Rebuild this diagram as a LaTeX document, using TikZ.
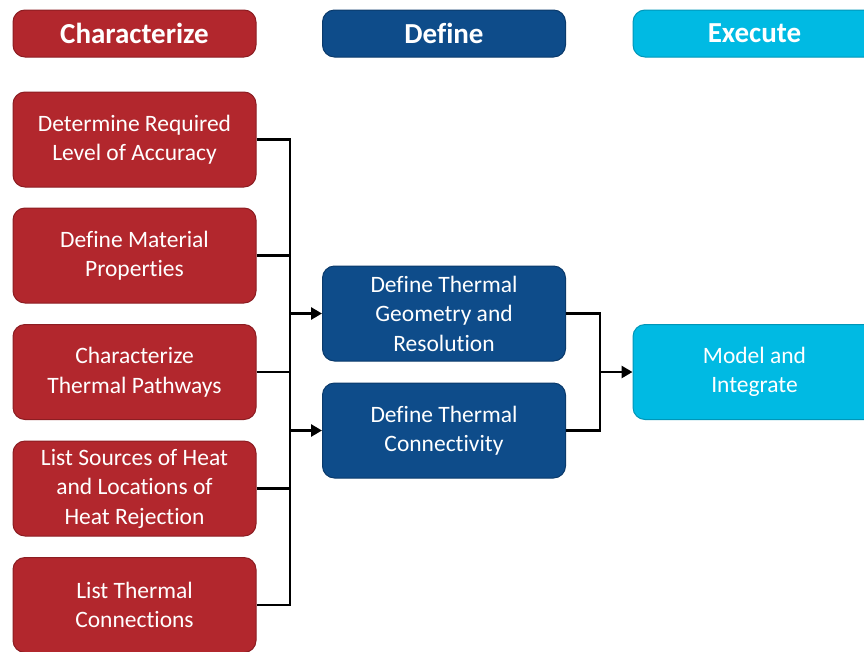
\documentclass[tikz,border=0pt]{standalone}
\usepackage{fontspec}
\setmainfont{Carlito}[Ligatures=NoCommon]
\usetikzlibrary{arrows.meta}
\definecolor{cred}{HTML}{B2272D}
\definecolor{credd}{HTML}{8C1D22}
\definecolor{cblue}{HTML}{0E4C8A}
\definecolor{cblued}{HTML}{0A3A6B}
\definecolor{ccyan}{HTML}{00BAE3}
\definecolor{ccyand}{HTML}{0096B8}
\tikzset{
  base/.style={rounded corners=12pt, draw, line width=1pt, text=white, align=center, inner sep=0pt, minimum width=243pt},
  stage/.style={base, minimum height=95pt, font=\fontsize{23.5}{29.5}\selectfont},
  head/.style={base, minimum height=47pt, font=\fontsize{29}{33}\selectfont\bfseries},
  redc/.style={fill=cred, draw=credd},
  bluec/.style={fill=cblue, draw=cblued},
  cyanc/.style={fill=ccyan, draw=ccyand},
  conn/.style={line width=2.7pt, draw=black, line join=miter},
  arr/.style={conn, -{Triangle[length=11pt,width=12pt]}}
}
\begin{document}
\begin{tikzpicture}[x=1pt,y=-1pt]
\useasboundingbox (0,0) rectangle (864,651);
\clip (0,0) rectangle (864,651);
% headers
\node[head, redc] (h1) at (134.5,33.5) {Characterize};
\node[head, bluec] (h2) at (444,33.5) {Define};
\node[head, cyanc] (h3) at (754.5,33.5) {Execute};
% characterize steps
\node[stage, redc] (r1) at (134.5,139.5) {Determine Required\\Level of Accuracy};
\node[stage, redc] (r2) at (134.5,255.5) {Define Material\\Properties};
\node[stage, redc] (r3) at (134.5,372) {Characterize\\Thermal Pathways};
\node[stage, redc] (r4) at (134.5,488.5) {List Sources of Heat\\and Locations of\\Heat Rejection};
\node[stage, redc] (r5) at (134.5,605) {List Thermal\\Connections};
% define steps
\node[stage, bluec] (b1) at (444,313.5) {Define Thermal\\Geometry and\\Resolution};
\node[stage, bluec] (b2) at (444,430.5) {Define Thermal\\Connectivity};
% execute
\node[stage, cyanc] (c1) at (754.5,372) {Model and\\Integrate};
% buses
\coordinate (busL) at (290,0);
\coordinate (busR) at (600,0);
\draw[conn] (r1.east) -- (r1.east -| busL) -- (r5.east -| busL) -- (r5.east);
\draw[conn] (r2.east) -- (r2.east -| busL);
\draw[conn] (r3.east) -- (r3.east -| busL);
\draw[conn] (r4.east) -- (r4.east -| busL);
\draw[arr] (b1.west -| busL) -- (b1.west);
\draw[arr] (b2.west -| busL) -- (b2.west);
\draw[conn] (b1.east) -- (b1.east -| busR) -- (b2.east -| busR) -- (b2.east);
\draw[arr] (c1.west -| busR) -- (c1.west);
\end{tikzpicture}
\end{document}
